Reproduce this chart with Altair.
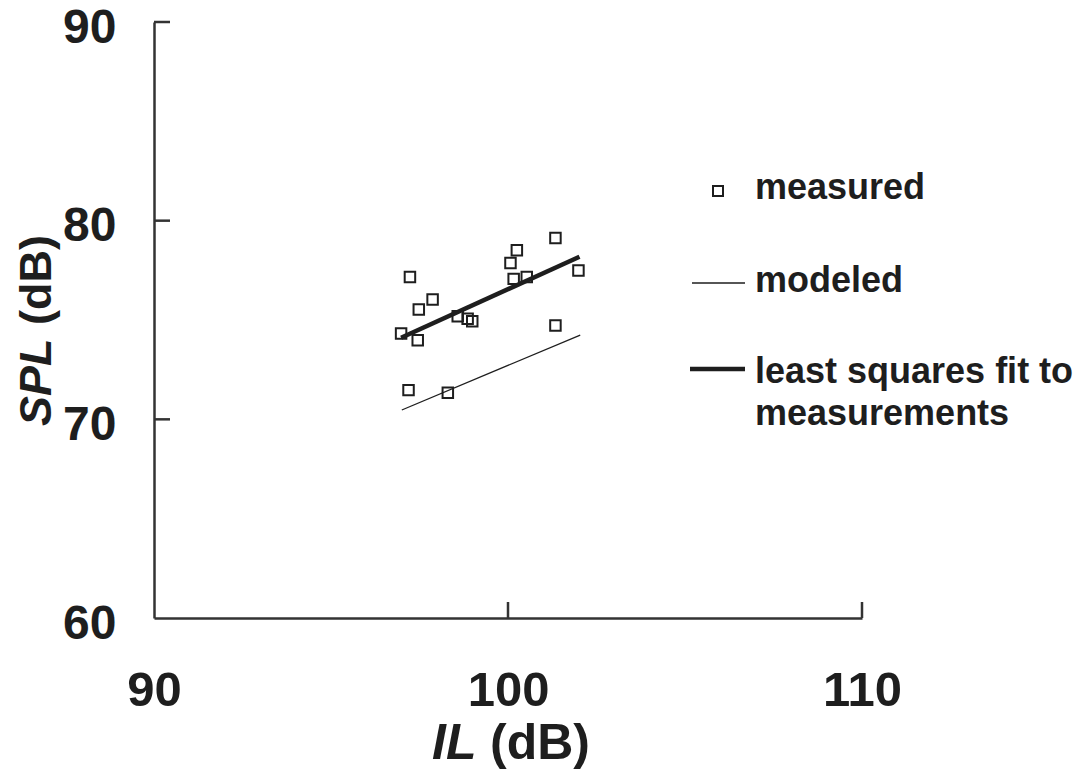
import altair as alt
import pandas as pd

# measured points
meas_il = [97.23, 97.87, 97.48, 96.98, 97.45, 98.58, 98.86, 98.99, 100.25, 100.07,
           100.16, 100.53, 101.34, 101.99, 101.34, 97.19, 98.30]
meas_spl = [77.17, 76.03, 75.53, 74.32, 73.98, 75.19, 75.06, 74.94, 78.51, 77.87,
            77.07, 77.17, 79.13, 77.49, 74.72, 71.47, 71.34]
# modeled line
model_il = [97.0, 102.04]
model_spl = [70.47, 74.24]
# least squares fit
fit_il = [96.98, 102.02]
fit_spl = [74.11, 78.18]

x_ticks = [90, 100, 110]
y_ticks = [60, 70, 80, 90]
x_inner_ticks = [100, 110]
y_inner_ticks = [70, 80, 90]

legend_labels = ["measured", "modeled", "least squares fit to", "measurements"]

FONT = "Liberation Sans"
INK = "#1e1e1e"

meas_df = pd.DataFrame({"IL": meas_il, "SPL": meas_spl})
model_df = pd.DataFrame({"IL": model_il, "SPL": model_spl})
fit_df = pd.DataFrame({"IL": fit_il, "SPL": fit_spl})
xt_df = pd.DataFrame({"IL": x_inner_ticks})
yt_df = pd.DataFrame({"SPL": y_inner_ticks})
one = pd.DataFrame({"k": [0]})

W, H = 708, 596

xscale = alt.Scale(domain=[90, 110], nice=False, zero=False)
yscale = alt.Scale(domain=[60, 90], nice=False, zero=False)

xaxis = alt.Axis(values=x_ticks, title=None, grid=False, ticks=False, tickSize=0,
                 domainColor="#333333", domainWidth=2.5,
                 labelFont=FONT, labelFontSize=49, labelFontWeight="bold",
                 labelColor=INK, labelBaseline="alphabetic", labelPadding=87,
                 labelFlush=False, labelOverlap=False)
yaxis = alt.Axis(values=y_ticks, title=None, grid=False, ticks=False, tickSize=0,
                 domainColor="#333333", domainWidth=2.5,
                 labelFont=FONT, labelFontSize=48, labelFontWeight="bold",
                 labelColor=INK, labelPadding=38, labelOffset=6,
                 labelFlush=False, labelOverlap=False)

points = alt.Chart(meas_df).mark_point(
    shape="square", filled=False, size=110, strokeWidth=2, color=INK, opacity=1
).encode(
    x=alt.X("IL:Q", scale=xscale, axis=xaxis),
    y=alt.Y("SPL:Q", scale=yscale, axis=yaxis),
)

model_line = alt.Chart(model_df).mark_line(color=INK, strokeWidth=1.3).encode(
    x=alt.X("IL:Q", scale=xscale), y=alt.Y("SPL:Q", scale=yscale)
)
fit_line = alt.Chart(fit_df).mark_line(color=INK, strokeWidth=4.5).encode(
    x=alt.X("IL:Q", scale=xscale), y=alt.Y("SPL:Q", scale=yscale)
)

xt = alt.Chart(xt_df).mark_rule(color="#333333", strokeWidth=2.5).encode(
    x=alt.X("IL:Q", scale=xscale), y=alt.value(H), y2=alt.value(H - 16)
)
yt = alt.Chart(yt_df).mark_rule(color="#333333", strokeWidth=2.5).encode(
    y=alt.Y("SPL:Q", scale=yscale), x=alt.value(0), x2=alt.value(16)
)

# legend
leg_sq = alt.Chart(one).mark_point(
    shape="square", filled=False, size=100, strokeWidth=2, color=INK, opacity=1
).encode(x=alt.value(564), y=alt.value(169))
leg_model = alt.Chart(one).mark_rule(color=INK, strokeWidth=1.3).encode(
    x=alt.value(538), x2=alt.value(591), y=alt.value(261)
)
leg_fit = alt.Chart(one).mark_rule(color=INK, strokeWidth=4.5).encode(
    x=alt.value(536), x2=alt.value(591), y=alt.value(347)
)
leg_y = [177, 270, 361, 403]
leg_texts = [
    alt.Chart(one).mark_text(
        text=t, font=FONT, fontSize=36, fontWeight="bold", color=INK,
        align="left", baseline="alphabetic"
    ).encode(x=alt.value(601), y=alt.value(yy))
    for t, yy in zip(legend_labels, leg_y)
]

# axis titles (italic variable + normal unit)
xt_var = alt.Chart(one).mark_text(
    text="IL", font=FONT, fontSize=50, fontWeight="bold", fontStyle="italic",
    color=INK, align="left", baseline="alphabetic"
).encode(x=alt.value(278), y=alt.value(737))
xt_unit = alt.Chart(one).mark_text(
    text="(dB)", font=FONT, fontSize=50, fontWeight="bold",
    color=INK, align="left", baseline="alphabetic"
).encode(x=alt.value(336), y=alt.value(737))
yt_var = alt.Chart(one).mark_text(
    text="SPL", font=FONT, fontSize=45, fontWeight="bold", fontStyle="italic",
    color=INK, align="left", baseline="alphabetic", angle=270
).encode(x=alt.value(-103), y=alt.value(404))
yt_unit = alt.Chart(one).mark_text(
    text="(dB)", font=FONT, fontSize=45, fontWeight="bold",
    color=INK, align="left", baseline="alphabetic", angle=270
).encode(x=alt.value(-103), y=alt.value(303))

chart = alt.layer(
    xt, yt, model_line, fit_line, points,
    leg_sq, leg_model, leg_fit, *leg_texts,
    xt_var, xt_unit, yt_var, yt_unit,
).properties(
    width=W, height=H,
    autosize=alt.AutoSizeParams(type="none"),
    padding={"left": 146, "top": 14, "right": 215, "bottom": 152},
    background="white",
).configure_view(strokeWidth=0, stroke="transparent")

chart.save("out.html", embed_options={"renderer": "svg", "actions": False})
